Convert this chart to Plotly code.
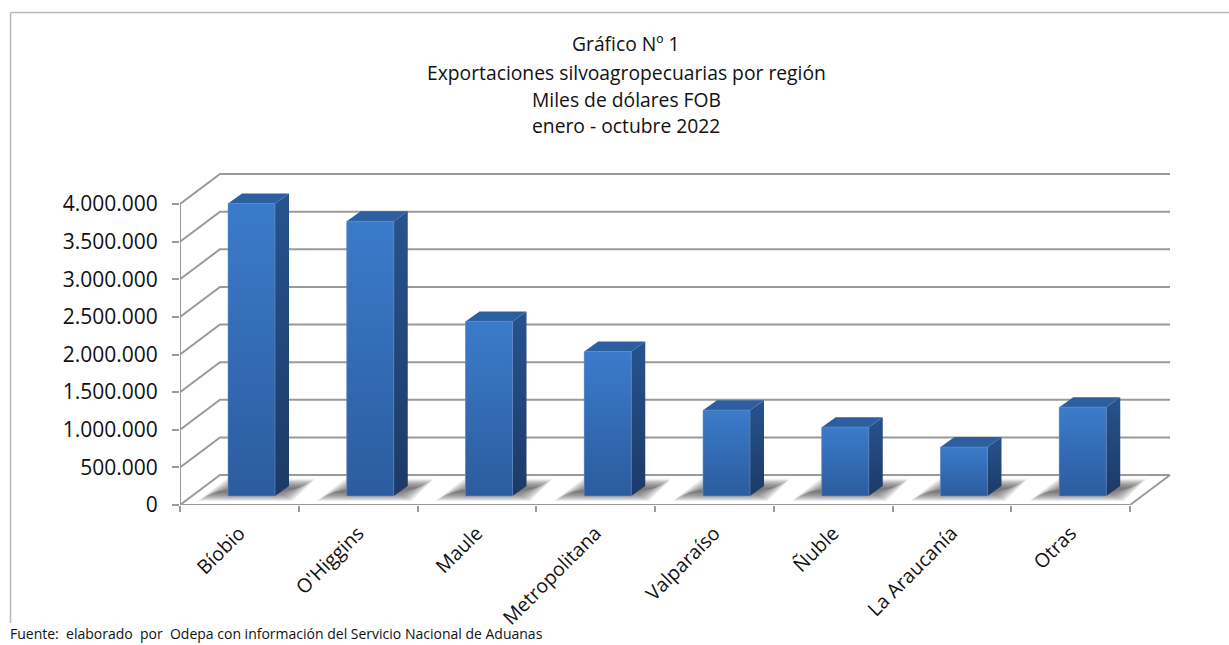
import plotly.graph_objects as go

# ---- data -------------------------------------------------------------
categories = ["Bíobio", "O'Higgins", "Maule", "Metropolitana", "Valparaíso", "Ñuble", "La Araucanía", "Otras"]
values = [3886000, 3650000, 2320000, 1920000, 1140000, 915000, 650000, 1180000]
y_ticks = [0, 500000, 1000000, 1500000, 2000000, 2500000, 3000000, 3500000, 4000000]
y_tick_labels = ["0", "500.000", "1.000.000", "1.500.000", "2.000.000", "2.500.000", "3.000.000", "3.500.000", "4.000.000"]
title_lines = ["Gráfico Nº 1", "Exportaciones silvoagropecuarias por región", "Miles de dólares FOB", "enero - octubre 2022"]
source_text = "Fuente:  elaborado  por  Odepa con información del Servicio Nacional de Aduanas"

# ---- layout geometry (pixels) -------------------------------------------
W, H = 1229, 645
L, R, B, T = 180, 1180, 505, 165      # plot rectangle
SX = 118.75                            # px per category slot
SY = 75.25 / 1e6                       # px per value unit
WALL_DX, WALL_DY = 40, 30              # depth of the chart box
BAR_CX, BAR_BASE = 251.5, 496          # first bar centre, bar foot
BAR_W = 47
BAR_DX, BAR_DY = 14, 10                # depth of each bar
FONT = "Open Sans"


def paper_x(px):
    return (px - L) / (R - L)


def paper_y(py):
    return (B - py) / (B - T)


n = len(categories)
grid = "#9a9a9a"
fig = go.Figure()


def add_line(xs, ys):
    fig.add_trace(go.Scatter(x=xs, y=ys, mode="lines", line=dict(color=grid, width=2),
                             hoverinfo="skip", showlegend=False))


wx, wy = WALL_DX / SX, WALL_DY / SY

# walls
for v in y_ticks:
    add_line([0, wx, n + wx], [v, v + wy, v + wy])
add_line([0, 0], [0, y_ticks[-1]])
add_line([0, n, n + wx], [0, 0, wy])

# soft floor shadows (main subplot, underneath the overlay with the bars)
off_x = (BAR_CX - L) / SX
off_y = (B - BAR_BASE) / SY
for i in range(n):
    c = i + off_x
    for grow in [8, 6, 4, 2, 0, -2, -4, -6]:
        hh = 6 + grow * 0.6
        xs = [c + (-45 - grow) / SX, c + (33 + grow) / SX, c + (55 + grow) / SX, c + (-17 - grow) / SX]
        ys = [off_y + (6 - hh) / SY, off_y + (6 - hh) / SY, off_y + (6 + hh) / SY, off_y + (6 + hh) / SY]
        fig.add_trace(go.Scatter(x=xs, y=ys, fill="toself", mode="none", fillcolor="rgba(60,60,60,0.13)",
                                 hoverinfo="skip", showlegend=False))

# bars on an overlay axis pair whose zero sits on the foot of the bars
fig.add_trace(go.Bar(x=list(range(n)), y=values, width=BAR_W / SX, marker=dict(color="#3469b0", line=dict(width=0)),
                     xaxis="x2", yaxis="y2", showlegend=False, name="Exportaciones"))
hw = BAR_W / SX / 2
dx, dy = BAR_DX / SX, BAR_DY / SY


def face(xs, ys, bottom, top, rim=None):
    fig.add_trace(go.Scatter(x=xs, y=ys, fill="toself", mode="lines" if rim else "none", xaxis="x2", yaxis="y2",
                             line=dict(color=rim or bottom, width=1),
                             fillgradient=dict(type="vertical", colorscale=[[0, bottom], [1, top]]),
                             hoverinfo="skip", showlegend=False))


for i, v in enumerate(values):
    face([i + hw, i + hw + dx, i + hw + dx, i + hw], [0, dy, v + dy, v], "#1c3a66", "#27538f")
    face([i - hw, i + hw, i + hw + dx, i - hw + dx], [v, v, v + dy, v + dy], "#2b5f9f", "#2b5f9f")
    face([i - hw, i + hw, i + hw, i - hw, i - hw], [0, 0, v, v, 0], "#2b5c9e", "#3b7bcb", rim="rgba(110,150,205,0.55)")

ann = [dict(text=t, x=paper_x(626), y=paper_y(py), xref="paper", yref="paper", showarrow=False,
            font=dict(family=FONT, size=19.3, color="#111111"), xanchor="center", yanchor="middle")
       for t, py in zip(title_lines, [44, 72, 99, 126])]
ann.append(dict(text=source_text, x=paper_x(8), y=paper_y(633), xref="paper", yref="paper", showarrow=False,
                font=dict(family=FONT, size=14, color="#111111"), xanchor="left", yanchor="middle"))

border = [dict(type="line", xref="paper", yref="paper", x0=paper_x(a), y0=paper_y(b), x1=paper_x(c), y1=paper_y(d),
               line=dict(color="#b8b8b8", width=1.5))
          for a, b, c, d in [(10.5, 12.5, W, 12.5), (10.5, 12.5, 10.5, 623)]]

fig.update_layout(
    width=W, height=H, margin=dict(l=L, r=W - R, t=T, b=H - B, pad=0),
    paper_bgcolor="white", plot_bgcolor="white", showlegend=False,
    annotations=ann, shapes=border, barmode="overlay",
    font=dict(family=FONT, color="#111111"),
    xaxis=dict(range=[0, (R - L) / SX], tickmode="array", tickvals=[i + 0.5 for i in range(n)], ticktext=categories,
               tickangle=-45, ticks="", showgrid=False, zeroline=False, showline=False, ticklabelstandoff=12,
               tickfont=dict(family=FONT, size=19.5, color="#111111"),
               minor=dict(tickmode="array", tickvals=list(range(n + 1)), ticks="outside", ticklen=6, tickwidth=2,
                          tickcolor=grid, showgrid=False)),
    yaxis=dict(range=[0, (B - T) / SY], tickmode="array", tickvals=y_ticks, ticktext=y_tick_labels, ticks="outside",
               ticklen=7, tickwidth=2, tickcolor=grid, showgrid=False, zeroline=False, showline=False,
               ticklabelstandoff=10, tickfont=dict(family=FONT, size=21, color="#111111")),
    xaxis2=dict(overlaying="x", anchor="y2", visible=False,
                range=[(L - BAR_CX) / SX, (R - BAR_CX) / SX]),
    yaxis2=dict(overlaying="y", anchor="x2", visible=False,
                range=[(BAR_BASE - B) / SY, (BAR_BASE - T) / SY]),
)
fig.write_html("out.html", config=dict(displayModeBar=False),
               post_script="document.body.style.margin='0';document.documentElement.style.overflow='hidden';")
